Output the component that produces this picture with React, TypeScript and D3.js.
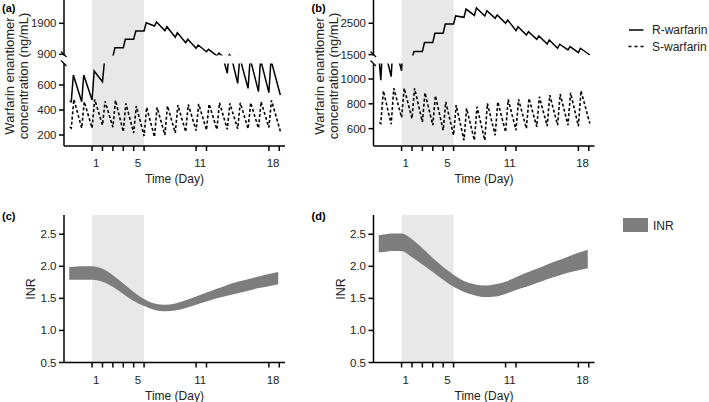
import * as d3 from "d3";

// dosing days and simulation limits
const doseDays = [-1, 0, 1, 2, 3, 4, 5, 6, 7, 8, 9, 10, 11, 12, 13, 14, 15, 16, 17, 18];
const startDay = -1.15;
const endDay = 19.1;

// panel (a) R-warfarin (ng/mL): value at each dose and the peak that follows
const rTroughA = [466, 466, 480, 626, 830, 1113, 1384, 1652, 1813, 1661, 1448, 1274, 1094, 984, 850, 694, 613, 573, 547, 539];
const rPeakA = [680, 680, 712, 800, 1113, 1384, 1652, 1919, 1942, 1790, 1597, 1384, 1200, 1061, 940, 892, 820, 812, 805, 800];
const rStartA = 470;
const rEndA = 520;

// panel (a) S-warfarin
const sTroughA = [256, 256, 256, 280, 262, 226, 216, 192, 184, 200, 216, 226, 235, 240, 245, 245, 250, 250, 255, 260];
const sPeakA = [485, 466, 485, 470, 477, 453, 432, 421, 421, 432, 440, 445, 448, 448, 458, 453, 458, 458, 466, 477];
const sStartA = 265;
const sEndA = 230;

// panel (b) R-warfarin
const rTroughB = [990, 1019, 1067, 1400, 1596, 1882, 2180, 2478, 2690, 2750, 2730, 2660, 2500, 2264, 2127, 1989, 1840, 1702, 1648, 1562];
const rPeakB = [1300, 1320, 1380, 1596, 1882, 2180, 2478, 2733, 2950, 2990, 2900, 2765, 2605, 2392, 2232, 2095, 1967, 1830, 1753, 1702];
const rStartB = 1150;
const rEndB = 1487;

// panel (b) S-warfarin
const sTroughB = [641, 636, 690, 682, 654, 628, 587, 547, 506, 506, 506, 547, 573, 587, 601, 614, 620, 628, 628, 620];
const sPeakB = [905, 925, 925, 925, 889, 865, 816, 790, 763, 776, 803, 816, 836, 836, 844, 857, 870, 879, 889, 905];
const sStartB = 650;
const sEndB = 641;

// INR bands
const inrDays = [-1.2, -1, 0, 1, 2, 3, 4, 5, 6, 7, 8, 9, 10, 11, 12, 13, 14, 15, 16, 17, 18, 18.9];
const inrHighC = [1.99, 1.99, 2.0, 2.0, 1.96, 1.86, 1.73, 1.6, 1.49, 1.42, 1.4, 1.42, 1.47, 1.53, 1.59, 1.65, 1.71, 1.76, 1.8, 1.84, 1.88, 1.91];
const inrLowC = [1.79, 1.79, 1.79, 1.79, 1.76, 1.68, 1.57, 1.46, 1.38, 1.32, 1.3, 1.31, 1.35, 1.4, 1.45, 1.5, 1.54, 1.58, 1.62, 1.66, 1.69, 1.72];
const inrHighD = [2.49, 2.49, 2.51, 2.51, 2.42, 2.28, 2.13, 1.99, 1.87, 1.77, 1.72, 1.7, 1.72, 1.76, 1.83, 1.9, 1.96, 2.03, 2.09, 2.15, 2.21, 2.26];
const inrLowD = [2.22, 2.22, 2.24, 2.24, 2.14, 2.03, 1.91, 1.79, 1.68, 1.6, 1.55, 1.52, 1.53, 1.57, 1.63, 1.68, 1.74, 1.8, 1.85, 1.9, 1.94, 1.97];

// axes
const xTicks = [1, 2, 3, 4, 5, 6, 11, 12, 18, 19];
const xLabels = [1, 5, 11, 18];
const shadeDays = [1, 6];
const inrTicks = [0.5, 1.0, 1.5, 2.0, 2.5];

const FONT = "'Liberation Sans', Arial, Helvetica, sans-serif";
const dayDomain = [-1.7, 19.55];
const plotW = 221;
const AXIS_Y = 146;
const UP_BOTTOM = 55.5;
const LOW_TOP = 63.5;
const INR_TOP = 215;
const INR_AXIS = 362.5;
const SHADE = "#e8e8e8";
const BAND = "#7d7d7d";

type Pt = [number, number];

function sawPoints(trough: number[], peak: number[], lag: number, start: number, end: number): Pt[] {
  const pts: Pt[] = [[startDay, start]];
  doseDays.forEach((d, i) => {
    pts.push([d, trough[i]]);
    pts.push([d + lag, peak[i]]);
  });
  pts.push([endDay, end]);
  return pts;
}

function XAxis({ x, y }: { x: d3.ScaleLinear<number, number>; y: number }) {
  const [r0, r1] = x.range();
  return (
    <g>
      <line x1={r0} x2={r1} y1={y} y2={y} stroke="#000" strokeWidth={1.5} />
      {xTicks.map((t) => (
        <line key={t} x1={x(t)} x2={x(t)} y1={y} y2={y + 5} stroke="#000" strokeWidth={1.5} />
      ))}
      {xLabels.map((t) => (
        <text key={t} x={x(t + 0.4)} y={y + 21} textAnchor="middle" fontSize={11.5} fill="#222">
          {t}
        </text>
      ))}
      <text x={(r0 + r1) / 2} y={y + 37} textAnchor="middle" fontSize={12} fill="#222">
        Time (Day)
      </text>
    </g>
  );
}

function YTicks({ y, x0, ticks, fmt }: { y: d3.ScaleLinear<number, number>; x0: number; ticks: number[]; fmt: (v: number) => string }) {
  return (
    <g>
      {ticks.map((t) => (
        <g key={t}>
          <line x1={x0 - 5} x2={x0} y1={y(t)} y2={y(t)} stroke="#000" strokeWidth={1.5} />
          <text x={x0 - 7.5} y={y(t)} dy="0.35em" textAnchor="end" fontSize={11.5} fill="#222">
            {fmt(t)}
          </text>
        </g>
      ))}
    </g>
  );
}

type ConcProps = {
  id: string;
  x0: number;
  label: string;
  upper: number[];
  lower: number[];
  upperTicks: number[];
  lowerTicks: number[];
  rPts: Pt[];
  sPts: Pt[];
};

function ConcPanel({ id, x0, label, upper, lower, upperTicks, lowerTicks, rPts, sPts }: ConcProps) {
  const x = d3.scaleLinear().domain(dayDomain).range([x0, x0 + plotW]);
  const yU = d3.scaleLinear().domain(upper).range([UP_BOTTOM, 0]);
  const yL = d3.scaleLinear().domain(lower).range([AXIS_Y, LOW_TOP]);
  const lineU = d3.line<Pt>().x((d) => x(d[0])).y((d) => yU(d[1]));
  const lineL = d3.line<Pt>().x((d) => x(d[0])).y((d) => yL(d[1]));
  const fmt = d3.format("d");
  return (
    <g>
      <defs>
        <clipPath id={`${id}-u`}>
          <rect x={x0} y={-5} width={plotW + 5} height={UP_BOTTOM + 5} />
        </clipPath>
        <clipPath id={`${id}-l`}>
          <rect x={x0} y={LOW_TOP} width={plotW + 5} height={AXIS_Y - LOW_TOP} />
        </clipPath>
      </defs>
      <rect x={x(shadeDays[0])} y={0} width={x(shadeDays[1]) - x(shadeDays[0])} height={AXIS_Y} fill={SHADE} />
      <path d={lineL(sPts) ?? ""} clipPath={`url(#${id}-l)`} fill="none" stroke="#000" strokeWidth={1.6} strokeDasharray="3,2.2" />
      <path d={lineU(rPts) ?? ""} clipPath={`url(#${id}-u)`} fill="none" stroke="#000" strokeWidth={1.5} />
      <path d={lineL(rPts) ?? ""} clipPath={`url(#${id}-l)`} fill="none" stroke="#000" strokeWidth={1.5} />
      {/* broken y axis */}
      <line x1={x0} x2={x0} y1={0} y2={UP_BOTTOM} stroke="#000" strokeWidth={1.5} />
      <line x1={x0} x2={x0} y1={LOW_TOP} y2={AXIS_Y} stroke="#000" strokeWidth={1.5} />
      <line x1={x0 - 3} x2={x0 + 2.5} y1={UP_BOTTOM - 4} y2={UP_BOTTOM + 1.5} stroke="#000" strokeWidth={1.3} />
      <line x1={x0 - 3} x2={x0 + 2.5} y1={LOW_TOP - 3} y2={LOW_TOP + 2.5} stroke="#000" strokeWidth={1.3} />
      <YTicks y={yU} x0={x0} ticks={upperTicks} fmt={fmt} />
      <YTicks y={yL} x0={x0} ticks={lowerTicks} fmt={fmt} />
      <XAxis x={x} y={AXIS_Y} />
      <g transform={`translate(${x0 - 50}, 76) rotate(-90)`} fontSize={13} fill="#222">
        <text x={0} y={0} textAnchor="middle">Warfarin enantiomer</text>
        <text x={0} y={14} textAnchor="middle">concentration (ng/mL)</text>
      </g>
      <text x={x0 - 62} y={12} fontSize={11} fontWeight="bold">{label}</text>
    </g>
  );
}

function InrPanel({ x0, label, high, low }: { x0: number; label: string; high: number[]; low: number[] }) {
  const x = d3.scaleLinear().domain(dayDomain).range([x0, x0 + plotW]);
  const y = d3.scaleLinear().domain([0.5, 2.8]).range([INR_AXIS, INR_TOP]);
  const area = d3
    .area<number>()
    .x((_, i) => x(inrDays[i]))
    .y0((_, i) => y(low[i]))
    .y1((d) => y(d))
    .curve(d3.curveMonotoneX);
  return (
    <g>
      <rect x={x(shadeDays[0])} y={INR_TOP} width={x(shadeDays[1]) - x(shadeDays[0])} height={INR_AXIS - INR_TOP} fill={SHADE} />
      <path d={area(high) ?? ""} fill={BAND} />
      <line x1={x0} x2={x0} y1={INR_TOP} y2={INR_AXIS} stroke="#000" strokeWidth={1.5} />
      <YTicks y={y} x0={x0} ticks={inrTicks} fmt={d3.format(".1f")} />
      <XAxis x={x} y={INR_AXIS} />
      <text transform={`translate(${x0 - 29}, 289) rotate(-90)`} textAnchor="middle" fontSize={12.5} fill="#222">
        INR
      </text>
      <text x={x0 - 62} y={219.5} fontSize={11} fontWeight="bold">{label}</text>
    </g>
  );
}

export default function App() {
  const rA = sawPoints(rTroughA, rPeakA, 0.2, rStartA, rEndA);
  const sA = sawPoints(sTroughA, sPeakA, 0.25, sStartA, sEndA);
  const rB = sawPoints(rTroughB, rPeakB, 0.2, rStartB, rEndB);
  const sB = sawPoints(sTroughB, sPeakB, 0.25, sStartB, sEndB);
  return (
    <div style={{ position: "absolute", left: 0, top: 0 }}>
      <svg width={709} height={402} style={{ display: "block", background: "#fff" }} fontFamily={FONT}>
        <ConcPanel id="pa" x0={64} label="(a)" upper={[862, 2652]} lower={[112, 772]} upperTicks={[900, 1900]} lowerTicks={[200, 400, 600]} rPts={rA} sPts={sA} />
        <ConcPanel id="pb" x0={373.5} label="(b)" upper={[1471, 3242]} lower={[460, 1125]} upperTicks={[1500, 2500]} lowerTicks={[600, 800, 1000]} rPts={rB} sPts={sB} />
        <InrPanel x0={64} label="(c)" high={inrHighC} low={inrLowC} />
        <InrPanel x0={373.5} label="(d)" high={inrHighD} low={inrLowD} />
        {/* legends */}
        <g fontSize={12} fill="#222">
          <line x1={629} x2={643.5} y1={30} y2={30} stroke="#000" strokeWidth={1.5} />
          <text x={652} y={34}>R-warfarin</text>
          <line x1={628.5} x2={643.5} y1={46.5} y2={46.5} stroke="#000" strokeWidth={1.5} strokeDasharray="3,3" />
          <text x={652} y={50.5}>S-warfarin</text>
          <rect x={623} y={218} width={25} height={14} fill={BAND} />
          <text x={653} y={229.5}>INR</text>
        </g>
      </svg>
    </div>
  );
}
